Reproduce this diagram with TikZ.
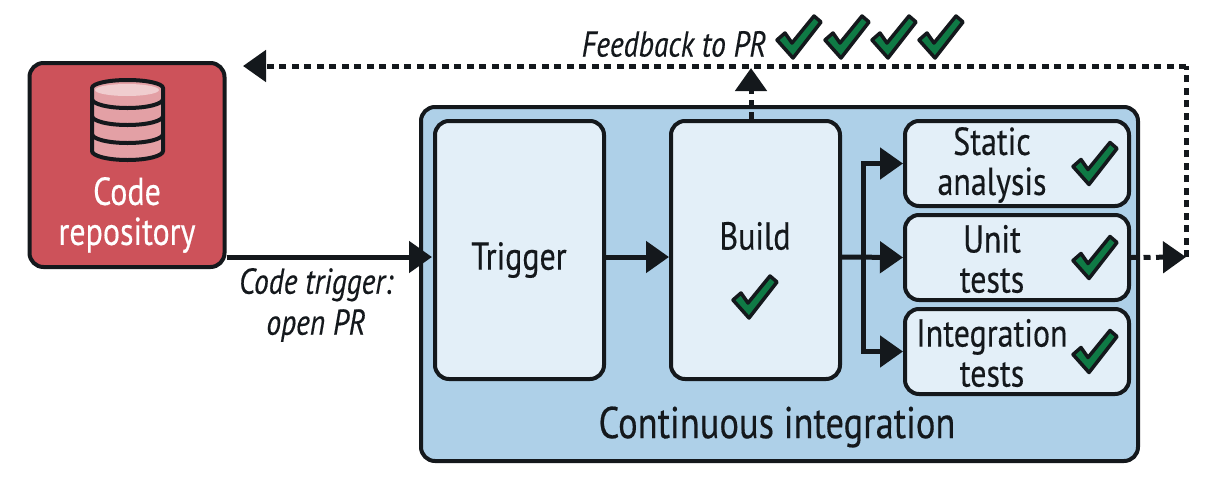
\documentclass[tikz,border=0pt]{standalone}
\usepackage{fontspec}
\setmainfont[FakeStretch=0.82, FakeBold=0.35]{PT Sans}
\usetikzlibrary{arrows.meta}

\definecolor{repored}{HTML}{CD525A}
\definecolor{dbpink}{HTML}{E3A0A5}
\definecolor{dblight}{HTML}{F0CDCF}
\definecolor{ciblue}{HTML}{AED0E8}
\definecolor{stepblue}{HTML}{E3EFF8}
\definecolor{inkblack}{HTML}{14181C}
\definecolor{checkgreen}{HTML}{0F7A45}

\tikzset{
    panel/.style={draw=inkblack, line width=4pt, rounded corners=14pt, inner sep=0pt},
    stepbox/.style={panel, fill=stepblue, minimum width=169pt, minimum height=258pt},
    testbox/.style={panel, fill=stepblue, minimum width=224pt, minimum height=85pt},
    boxtext/.style={font=\fontsize{39}{40}\selectfont, text=inkblack, align=center, inner sep=0pt},
    notetext/.style={font=\fontsize{36}{41}\selectfont\itshape, text=inkblack, align=center, inner sep=0pt},
    flow/.style={draw=inkblack, line width=5pt, -{Triangle[length=23pt, width=31pt]}},
    feedback/.style={draw=inkblack, line width=5pt, dash pattern=on 7pt off 5.5pt},
    tick/.pic={
        \draw[draw=inkblack, fill=checkgreen, line width=3.5pt, line join=round]
            (-22,3) -- (-14,-4) -- (-7,6) -- (15,-21) -- (22,-15) -- (-6,21) -- cycle;
    }
}

\begin{document}
\begin{tikzpicture}[x=1pt, y=-1pt]
    \useasboundingbox (0,0) rectangle (1216,488);

    % code repository
    \node[panel, fill=repored, minimum width=195pt, minimum height=204pt] (repo) at (127,165) {};
    \node[boxtext, text=white] (repotext) at (127,215) {Code\\repository};

    % database icon
    \draw[draw=inkblack, fill=dbpink, line width=4pt]
        (92,88) -- (92,151) arc[start angle=180, end angle=0, x radius=35.5, y radius=9]
        -- (163,88) arc[start angle=360, end angle=180, x radius=35.5, y radius=8] -- cycle;
    \fill[dblight] (127,90) ellipse[x radius=32, y radius=6];
    \foreach \y in {99,116,134} {
        \draw[draw=inkblack, line width=4pt] (92,\y) arc[start angle=180, end angle=0, x radius=35.5, y radius=9];
    }

    % continuous integration
    \node[panel, fill=ciblue, minimum width=717pt, minimum height=354pt] (ci) at (779.5,284) {};
    \node[boxtext, font=\fontsize{44.5}{48}\selectfont] (citext) at (777,427) {Continuous integration};

    \node[stepbox] (trigger) at (519.5,250) {};
    \node[boxtext] (triggertext) at (519,260) {Trigger};
    \node[stepbox] (build) at (755.5,250) {};
    \node[boxtext] (buildtext) at (755,236) {Build};
    \pic at (755,297) {tick};

    % test boxes
    \foreach \name/\y/\label in {static/163.5/{Static\\analysis}, unit/257.5/{Unit\\tests}, integration/351.5/{Integration\\tests}} {
        \node[testbox] (\name) at (1017,\y) {};
        \node[boxtext, yshift=-1.5pt] (\name text) at (992,\y) {\label};
        \pic at (1095,\y) {tick};
    }

    % code trigger
    \coordinate (citarget) at (432,257);
    \draw[flow] (repo.east |- citarget) -- (citarget);
    \node[notetext] (triggernote) at (316,305) {Code trigger:\\open PR};
    \draw[flow] (trigger.east |- citarget) -- (build.west |- citarget);

    % build to tests
    \coordinate (fork) at (863,257);
    \draw[flow] (build.east |- fork) -- (unit.west);
    \draw[flow, rounded corners=0pt] (fork) |- (static.west);
    \draw[flow, rounded corners=0pt] (fork) |- (integration.west);

    % feedback
    \coordinate (fbturn) at (1186,257);
    \coordinate (fbcorner) at (1186,66);
    \coordinate (fbend) at (243,66);
    \coordinate (fbup) at (751,68);
    \draw[feedback, -{Triangle[length=23pt, width=31pt]}] (unit.east) -- (fbturn);
    \draw[feedback] (fbturn) -- (fbcorner);
    \draw[feedback, -{Triangle[length=23pt, width=31pt]}] (fbcorner) -- (fbend);
    \draw[feedback, -{Triangle[length=23pt, width=31pt]}] (build.north -| fbup) -- (fbup);

    \node[notetext] (fbnote) at (674,44) {Feedback to PR};
    \foreach \x in {799,847,894,941} {
        \pic at (\x,37) {tick};
    }
\end{tikzpicture}
\end{document}
